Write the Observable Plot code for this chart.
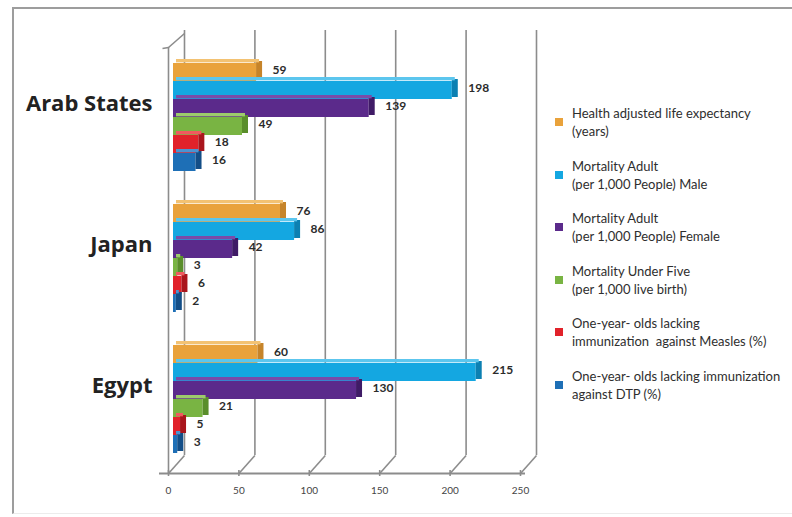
<!DOCTYPE html>
<html><head><meta charset="utf-8">
<script src="https://cdn.jsdelivr.net/npm/d3@7"></script>
<script src="https://cdn.jsdelivr.net/npm/@observablehq/plot@0.6"></script>
<style>
body{margin:0;background:#fff;font-family:Lato, "Open Sans", sans-serif;}
#wrap{position:relative;width:792px;height:517px;overflow:hidden;background:#fff;}
#wrap svg{position:absolute;left:0;top:0;overflow:visible;}
#border{position:absolute;left:12px;top:7px;width:800px;height:504px;border-top:2px solid #9d9d9d;border-left:2px solid #9d9d9d;border-bottom:1px solid #ececec;}
.item{position:absolute;left:572px;font-size:13px;color:#2e2e2e;line-height:18px;white-space:nowrap;}
.sw{position:absolute;left:555px;width:8px;height:8px;}
</style></head><body><div id="wrap"><div id="border"></div></div>
<script>
// ---------- data ----------
const countries = ["Arab States", "Japan", "Egypt"];
const series = [
  "Health adjusted life expectancy (years)",
  "Mortality Adult (per 1,000 People) Male",
  "Mortality Adult (per 1,000 People) Female",
  "Mortality Under Five (per 1,000 live birth)",
  "One-year- olds lacking immunization against Measles (%)",
  "One-year- olds lacking immunization against DTP (%)"
];
const legendLines = [
  ["Health adjusted life expectancy", "(years)"],
  ["Mortality Adult", "(per 1,000 People) Male"],
  ["Mortality Adult", "(per 1,000 People) Female"],
  ["Mortality Under Five", "(per 1,000 live birth)"],
  ["One-year- olds lacking", "immunization&nbsp; against Measles (%)"],
  ["One-year- olds lacking immunization", "against DTP (%)"]
];
const arabStates = [59, 198, 139, 49, 18, 16];
const japan      = [76, 86, 42, 3, 6, 2];
const egypt      = [60, 215, 130, 21, 5, 3];
const xTicks = [0, 50, 100, 150, 200, 250];

const frontColors = ["#E9A23B", "#14A7E1", "#5B2A8B", "#79B443", "#E1222A", "#1E6FB6"];
const topColors   = ["#F3C272", "#5CC6EE", "#7A4BA8", "#9DCB6C", "#F05A5F", "#4B93D2"];
const sideColors  = ["#C6842A", "#0C80B2", "#3F1B66", "#5A8E2B", "#A9151C", "#134E87"];

const values = [arabStates, japan, egypt];
const rows = countries.flatMap((c, i) =>
  values[i].map((v, j) => ({country: c, series: series[j], idx: j, value: v})));

// ---------- layout ----------
const W = 792, H = 517;
const ML = 168, MR = W - 520;           // x: 0 -> 168px, 250 -> 520px
const MT = 33, MB = H - 473;            // back frame
const depthX = 16, depthY = 18;         // 3D depth in px
const upp = 250 / (W - ML - MR);        // x units per px
const gridColor = "#8c8c8c";
const innerH = H - MT - MB;

const back = Plot.plot({
  width: W, height: H,
  marginLeft: ML, marginRight: MR, marginTop: MT, marginBottom: MB,
  x: {domain: [0, 250]},
  y: {domain: [0, innerH], axis: null},
  style: {background: "transparent", fontFamily: "Lato, sans-serif"},
  marks: [
    Plot.ruleX(xTicks, {x: d => d + depthX * upp, y1: depthY, y2: innerH + 3, stroke: gridColor, strokeWidth: 1.6}),
    Plot.link(xTicks, {x1: d => d, y1: 0, x2: d => d + depthX * upp, y2: depthY, stroke: gridColor, strokeWidth: 1.6}),
    Plot.ruleX([0], {y1: 0, y2: innerH - 14, stroke: gridColor, strokeWidth: 1.6}),
    Plot.link([0], {x1: d => d, y1: innerH - 14, x2: d => d + depthX * upp, y2: innerH, stroke: gridColor, strokeWidth: 1.6}),
    Plot.link([0], {x1: d => d - 6 * upp, y1: innerH - 15, x2: d => d, y2: innerH - 14, stroke: gridColor, strokeWidth: 1.6}),
    Plot.ruleY([0], {insetLeft: -9, insetRight: -5, stroke: gridColor, strokeWidth: 1.8}),
    Plot.ruleX(xTicks, {y1: -3, y2: 3, stroke: gridColor, strokeWidth: 1.6}),
    Plot.axisX(xTicks, {tickSize: 0, tickPadding: 13, fontSize: 10, fill: "#444", label: null})
  ]
});

const fyPad = 0.21;
const groupH = (H - 60 - 62) / (3 - fyPad) * (1 - fyPad);
const barH = groupH / series.length;
const bevel = 4, side = 6, shift = 5;

const bars = Plot.plot({
  width: W, height: H,
  marginLeft: ML, marginRight: MR, marginTop: 60, marginBottom: 62,
  x: {domain: [0, 250], axis: null},
  fy: {domain: countries, paddingInner: fyPad, paddingOuter: 0, axis: null},
  y: {domain: series, padding: 0, axis: null},
  style: {background: "transparent", fontFamily: "Lato, sans-serif", overflow: "visible"},
  marks: [
    Plot.barX(rows, {fy: "country", y: "series", x1: 0, x2: "value", dx: shift,
      fill: d => frontColors[d.idx]}),
    Plot.barX(rows, {fy: "country", y: "series", x1: "value", x2: "value", dx: shift,
      insetRight: -side, dy: -bevel / 2, fill: d => sideColors[d.idx]}),
    Plot.barX(rows, {fy: "country", y: "series", x1: 0, x2: "value", dx: shift + side / 2,
      dy: -bevel, insetBottom: barH - bevel, fill: d => topColors[d.idx]}),
    Plot.text(rows, {fy: "country", y: "series", x: "value", text: d => String(d.value),
      textAnchor: "start", dx: 21, dy: -2, fontSize: 12, fontWeight: "bold", fill: "#2b2b2b"}),
    Plot.text(countries, {fy: d => d, text: d => d, frameAnchor: "left", textAnchor: "end",
      dx: -16, dy: -13, fontSize: 22, fontWeight: "bold", fill: "#222",
      fontFamily: "'Open Sans', sans-serif"})
  ]
});

const wrap = document.getElementById("wrap");
wrap.appendChild(back);
wrap.appendChild(bars);

legendLines.forEach((lines, i) => {
  const top = 104 + i * 52.5;
  const item = document.createElement("div");
  item.className = "item";
  item.style.top = top + "px";
  item.innerHTML = lines.join("<br>");
  wrap.appendChild(item);
  const sw = document.createElement("div");
  sw.className = "sw";
  sw.style.top = (top + 14) + "px";
  sw.style.background = frontColors[i];
  wrap.appendChild(sw);
});
</script></body></html>
